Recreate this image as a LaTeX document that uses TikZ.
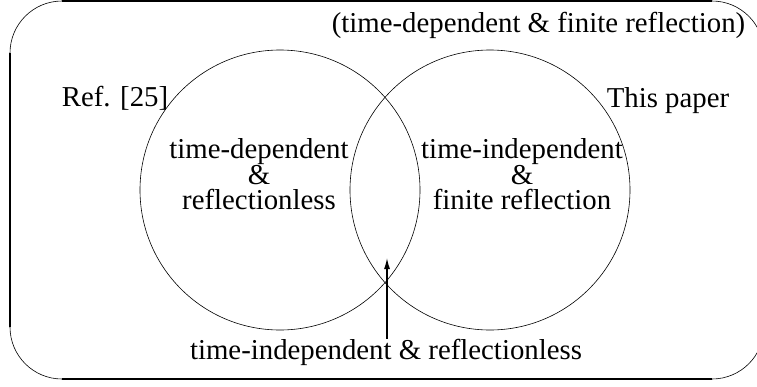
\documentclass[tikz,border=0pt]{standalone}
\usepackage{fontspec}
\setmainfont{Liberation Serif}
\usetikzlibrary{arrows.meta}
\begin{document}
\begin{tikzpicture}[x=1pt,y=-1pt,
  lbl/.style={inner sep=0pt, font=\fontsize{28.8}{24.5}\selectfont},
  setcircle/.style={circle, draw, line width=0.6pt, minimum size=280pt, inner sep=0pt},
  frameline/.style={line width=1.6pt},
  framearc/.style={line width=0.6pt},
  arr/.style={line width=1.3pt, -{Latex[length=11pt,width=6pt]}}]
\useasboundingbox (0,0) rectangle (757,386);
% frame
\draw[frameline] (62,1) -- (712,1);
\draw[frameline] (712,379) -- (62,379);
\draw[frameline] (10,327) -- (10,53);
\draw[frameline] (764,53) -- (764,327);
\draw[framearc] (10,53) arc[start angle=180, end angle=270, radius=52];
\draw[framearc] (712,1) arc[start angle=270, end angle=360, radius=52];
\draw[framearc] (764,327) arc[start angle=0, end angle=90, radius=52];
\draw[framearc] (62,379) arc[start angle=90, end angle=180, radius=52];
% sets
\node[setcircle] (ref) at (280,190) {};
\node[setcircle] (this) at (490,190) {};
% labels
\node[lbl, anchor=base] (all) at (538.5,32) {(time-dependent \& finite reflection)};
\node[lbl, anchor=base] (reflab) at (115,106) {Ref. [25]};
\node[lbl, anchor=base] (thislab) at (668,107) {This paper};
\node[lbl, align=center] (left) at (259,174) {time-dependent\\\&\\reflectionless};
\node[lbl, align=center] (right) at (522,174) {time-independent\\\&\\finite reflection};
\node[lbl, anchor=base] (bot) at (386,359) {time-independent \& reflectionless};
% arrow
\coordinate (tip) at (387,258);
\draw[arr] (bot.north -| tip) -- (tip);
\end{tikzpicture}
\end{document}
